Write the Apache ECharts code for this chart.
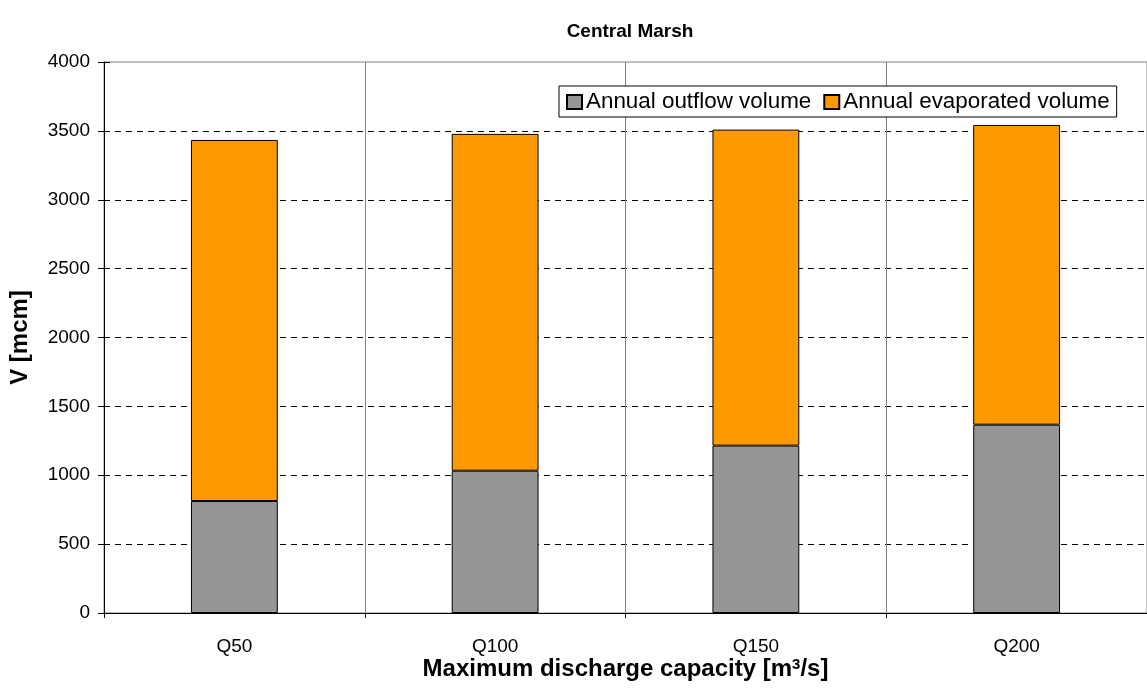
<!DOCTYPE html>
<html>
<head>
<meta charset="utf-8">
<script src="https://cdn.jsdelivr.net/npm/echarts@6/dist/echarts.min.js"></script>
<style>
html,body{margin:0;padding:0;background:#fff;}
#chart{width:1147px;height:698px;}
</style>
</head>
<body>
<div id="chart"></div>
<script>
var categories = ['Q50', 'Q100', 'Q150', 'Q200'];
var outflowVolume = [813, 1033, 1215, 1367];
var evaporatedVolume = [2621, 2445, 2294, 2176];
var yTicks = [0, 500, 1000, 1500, 2000, 2500, 3000, 3500, 4000];

var FONT = '"Liberation Sans", Arial, sans-serif';
var chart = echarts.init(document.getElementById('chart'));
chart.setOption({
  animation: false,
  backgroundColor: '#ffffff',
  textStyle: { fontFamily: FONT, color: '#000' },
  title: {
    text: 'Central Marsh',
    left: 625, top: 17, textAlign: 'center',
    textStyle: { fontFamily: FONT, fontSize: 19, fontWeight: 'bold', color: '#000' }
  },
  legend: {
    left: 559, top: 86,
    padding: [5, 7, 4, 7],
    itemGap: 12, itemWidth: 15, itemHeight: 14,
    icon: 'rect',
    backgroundColor: '#ffffff',
    borderColor: '#000', borderWidth: 1, borderRadius: 0,
    textStyle: { fontFamily: FONT, fontSize: 22.4, color: '#000', padding: [0, 0, 0, -1] },
    data: ['Annual outflow volume', 'Annual evaporated volume']
  },
  grid: {
    left: 103, right: 0, top: 62, bottom: 85,
    show: true, borderColor: '#808080', borderWidth: 1, backgroundColor: 'transparent'
  },
  xAxis: {
    type: 'category',
    data: categories,
    name: 'Maximum discharge capacity [m{sup|3}/s]',
    nameLocation: 'middle',
    nameGap: 44,
    nameMoveOverlap: false,
    nameTextStyle: {
      fontFamily: FONT, fontSize: 24, fontWeight: 'bold', color: '#000',
      rich: { sup: { fontFamily: FONT, fontSize: 15, fontWeight: 'bold', color: '#000', verticalAlign: 'top', padding: [0, 0, 10, 0] } }
    },
    axisLine: { lineStyle: { color: '#000', width: 1 } },
    axisTick: { show: true, length: 5, alignWithLabel: false, lineStyle: { color: '#000' } },
    axisLabel: { fontFamily: FONT, fontSize: 19, color: '#000', margin: 24 },
    splitLine: { show: true, lineStyle: { color: '#808080', width: 1, type: 'solid' } }
  },
  yAxis: [{
    type: 'value',
    min: yTicks[0], max: yTicks[yTicks.length - 1], interval: yTicks[1] - yTicks[0],
    name: 'V [mcm]',
    nameLocation: 'middle',
    nameGap: 72,
    nameRotate: 90,
    nameMoveOverlap: false,
    nameTextStyle: { fontFamily: FONT, fontSize: 24, fontWeight: 'bold', color: '#000' },
    axisLine: { show: true, lineStyle: { color: '#000', width: 1 } },
    axisTick: { show: true, length: 6, lineStyle: { color: '#000' } },
    axisLabel: { fontFamily: FONT, fontSize: 19, color: '#000', margin: 14, formatter: function (v) { return String(v); } },
    splitLine: { show: true, showMinLine: false, showMaxLine: false, lineStyle: { color: '#000', width: 1, type: [6, 5] } }
  }, {
    type: 'value', position: 'left',
    min: yTicks[0], max: yTicks[yTicks.length - 1], interval: yTicks[1] - yTicks[0],
    axisLine: { show: false },
    axisTick: { show: true, inside: true, length: 6, lineStyle: { color: '#000' } },
    axisLabel: { show: false },
    splitLine: { show: false }
  }],
  series: [{
    name: 'Annual outflow volume',
    type: 'bar', stack: 'v', barWidth: '33.3%',
    data: outflowVolume,
    itemStyle: { color: '#969696', borderColor: '#000', borderWidth: 1 }
  }, {
    name: 'Annual evaporated volume',
    type: 'bar', stack: 'v', barWidth: '33.3%',
    data: evaporatedVolume,
    itemStyle: { color: '#FF9900', borderColor: '#000', borderWidth: 1 }
  }]
});
</script>
</body>
</html>
